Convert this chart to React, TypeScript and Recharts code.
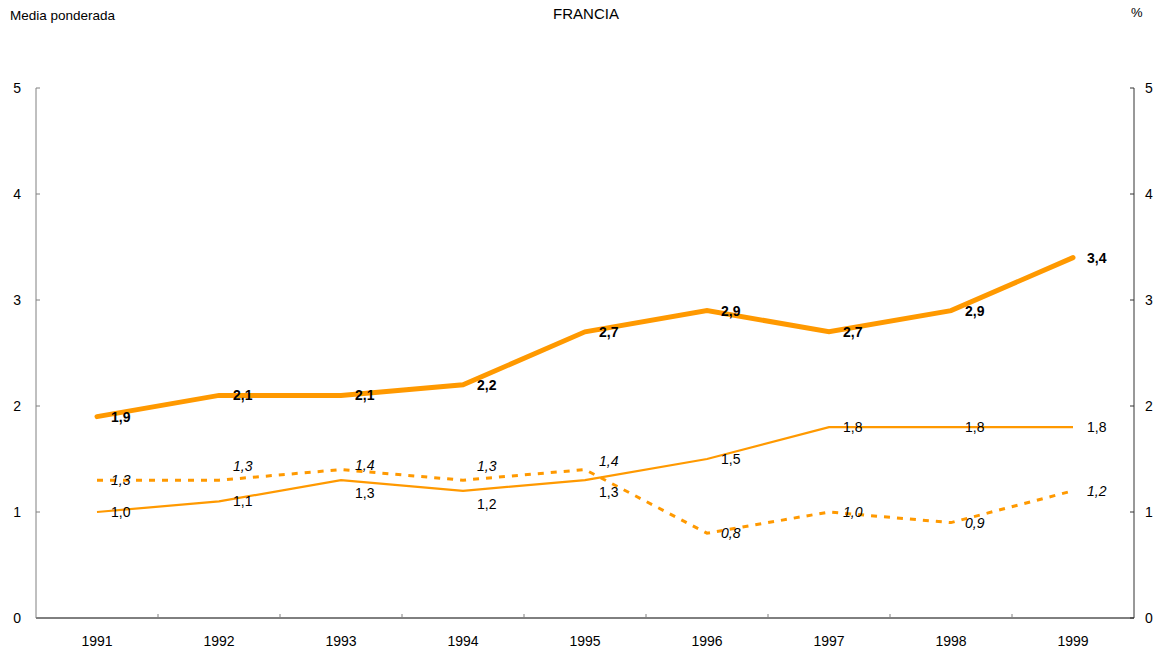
import { LineChart, Line, XAxis, YAxis, LabelList } from 'recharts';

const years = ['1991', '1992', '1993', '1994', '1995', '1996', '1997', '1998', '1999'];
const weightedMean = [1.9, 2.1, 2.1, 2.2, 2.7, 2.9, 2.7, 2.9, 3.4];
const solidSeries = [1.0, 1.1, 1.3, 1.2, 1.3, 1.5, 1.8, 1.8, 1.8];
const dashedSeries = [1.3, 1.3, 1.4, 1.3, 1.4, 0.8, 1.0, 0.9, 1.2];
const yTicks = [0, 1, 2, 3, 4, 5];

// vertical nudges for labels that would otherwise collide
const solidLabelDy = [0, 0, 13, 13, 12, 0, 0, 0, 0];
const dashedLabelDy = [0, -14, -5, -14, -9, 0, 0, 0, 0];

const W = 1160;
const H = 653;
const PLOT_LEFT = 36;
const PLOT_RIGHT = 1134;
const HALF_BAND = (PLOT_RIGHT - PLOT_LEFT) / years.length / 2;
const ORANGE = '#FF9900';
const FONT = '"Liberation Sans", Arial, sans-serif';

const data = years.map((year, i) => ({
    year,
    weighted: weightedMean[i],
    solid: solidSeries[i],
    dashed: dashedSeries[i],
}));

const fmt = (v: number) => v.toFixed(1).replace('.', ',');

const makeLabel = (dys: number[] | null, weight: string, style: string) => (props: any) => {
    const { x, y, value, index } = props;
    const dy = dys ? dys[index] ?? 0 : 0;
    return (
        <text
            x={x + 14}
            y={y + dy}
            dominantBaseline="central"
            fontSize={14}
            fontWeight={weight}
            fontStyle={style}
            fill="#000"
            fontFamily={FONT}
        >
            {fmt(Number(value))}
        </text>
    );
};

const XTick = (props: any) => {
    const { x, y, payload, index } = props;
    return (
        <g>
            {index > 0 && (
                <line x1={x - HALF_BAND} x2={x - HALF_BAND} y1={y} y2={y - 4} stroke="#808080" strokeWidth={1} />
            )}
            <text x={x} y={y + 28} textAnchor="middle" fontSize={14} fill="#000" fontFamily={FONT}>
                {payload.value}
            </text>
        </g>
    );
};

export default function App() {
    return (
        <div style={{ position: 'absolute', left: 0, top: 0, width: W, height: H, background: '#fff', fontFamily: FONT }}>
            <div style={{ position: 'absolute', left: 10, top: 8, fontSize: 13.5 }}>Media ponderada</div>
            <div style={{ position: 'absolute', left: 6, width: W, top: 5, fontSize: 15, textAlign: 'center' }}>FRANCIA</div>
            <div style={{ position: 'absolute', left: 1131, top: 5, fontSize: 13 }}>%</div>
            <LineChart width={W} height={H} data={data} margin={{ top: 88, right: 0, left: 0, bottom: 0 }}>
                <XAxis
                    dataKey="year"
                    height={35}
                    stroke="#000"
                    tickLine={false}
                    tickSize={0}
                    tickMargin={0}
                    tick={<XTick />}
                    interval={0}
                    padding={{ left: HALF_BAND, right: HALF_BAND }}
                />
                <YAxis
                    yAxisId="left"
                    width={36}
                    domain={[0, 5]}
                    ticks={yTicks}
                    stroke="#808080"
                    tickSize={-4}
                    tickMargin={19}
                    tick={{ fill: '#000', fontSize: 14, fontFamily: FONT }}
                />
                <YAxis
                    yAxisId="right"
                    orientation="right"
                    width={26}
                    domain={[0, 5]}
                    ticks={yTicks}
                    stroke="#333"
                    tickSize={-4}
                    tickMargin={15}
                    tick={{ fill: '#000', fontSize: 14, fontFamily: FONT }}
                />
                {/* invisible series so the right-hand axis gets its ticks */}
                <Line
                    yAxisId="right"
                    dataKey="weighted"
                    stroke="none"
                    dot={false}
                    activeDot={false}
                    legendType="none"
                    isAnimationActive={false}
                />
                <Line
                    yAxisId="left"
                    dataKey="dashed"
                    stroke={ORANGE}
                    strokeWidth={3}
                    strokeDasharray="6 7"
                    dot={false}
                    isAnimationActive={false}
                >
                    <LabelList dataKey="dashed" content={makeLabel(dashedLabelDy, 'normal', 'italic')} />
                </Line>
                <Line
                    yAxisId="left"
                    dataKey="solid"
                    stroke={ORANGE}
                    strokeWidth={2.2}
                    dot={false}
                    isAnimationActive={false}
                >
                    <LabelList dataKey="solid" content={makeLabel(solidLabelDy, 'normal', 'normal')} />
                </Line>
                <Line
                    yAxisId="left"
                    dataKey="weighted"
                    stroke={ORANGE}
                    strokeWidth={5}
                    strokeLinecap="round"
                    dot={false}
                    isAnimationActive={false}
                >
                    <LabelList dataKey="weighted" content={makeLabel(null, 'bold', 'normal')} />
                </Line>
            </LineChart>
        </div>
    );
}
